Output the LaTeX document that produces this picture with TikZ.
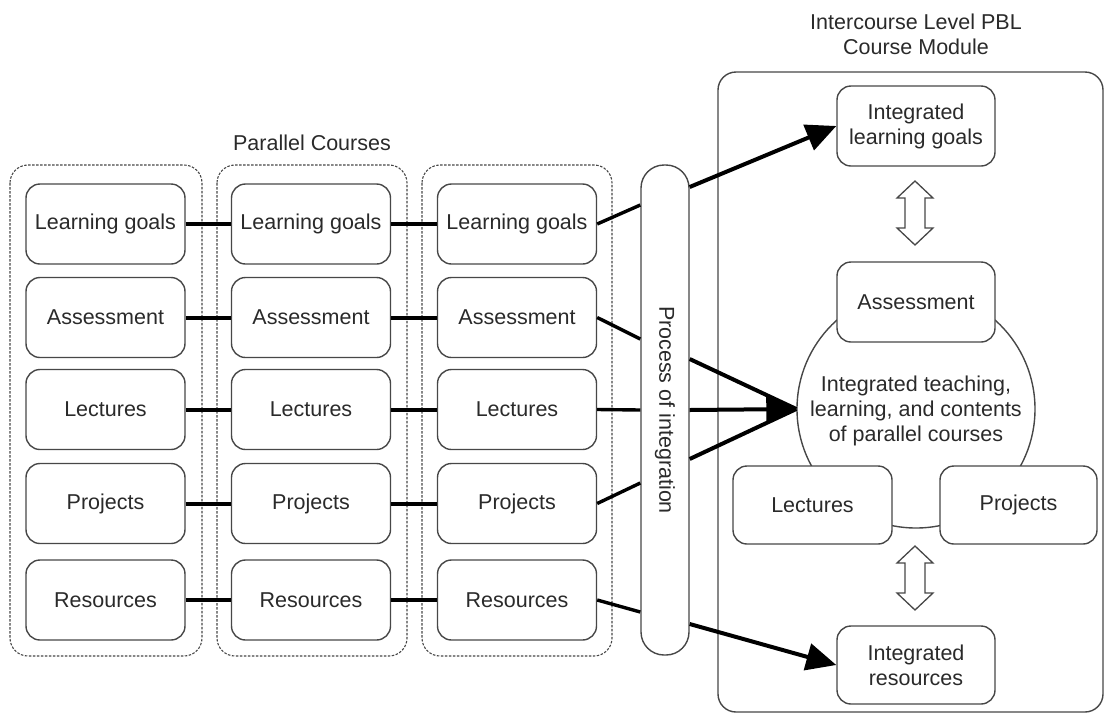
\documentclass[tikz,border=0pt]{standalone}
\usepackage{fontspec}
\setmainfont{Liberation Sans}
\usetikzlibrary{arrows.meta,calc}
\definecolor{edge}{HTML}{474747}
\definecolor{ink}{HTML}{2A2A2A}
\begin{document}
\begin{tikzpicture}[x=1pt,y=-1pt,
  every node/.style={font=\fontsize{21.5}{25}\selectfont, text=ink},
  rbox/.style={draw=edge, line width=1.4pt, rounded corners=14pt, fill=white,
     minimum width=159pt, minimum height=80pt, inner sep=0pt, align=center},
  course/.style={draw=edge, line width=1.1pt, dash pattern=on 2.5pt off 1.5pt, rounded corners=18pt},
  link/.style={line width=4pt, black},
  feed/.style={line width=3.4pt, black},
  bigarrow/.style={line width=4pt, black, -{Triangle[length=30pt,width=27pt]}},
  dblarrow/.style={draw=edge, line width=1.3pt, fill=white, line join=miter}
]
\useasboundingbox (0,0) rectangle (1106,713);

% titles
\node[align=center] (ttl) at (916,34) {Intercourse Level PBL\\Course Module};
\node (ptl) at (312,143) {Parallel Courses};

% dashed course containers
\draw[course] (10,165) rectangle (202,656);
\draw[course] (217,165) rectangle (407,656);
\draw[course] (422,165) rectangle (612,656);

% module frame
\draw[draw=edge, line width=1.4pt, rounded corners=18pt] (718,72) rectangle (1103,712);

% course boxes
\foreach \c/\x in {1/105.5, 2/311, 3/517}{
  \node[rbox] (c\c r1) at (\x,224) {Learning goals};
  \node[rbox] (c\c r2) at (\x,317.5) {Assessment};
  \node[rbox] (c\c r3) at (\x,409.5) {Lectures};
  \node[rbox] (c\c r4) at (\x,503.5) {Projects};
  \node[rbox] (c\c r5) at (\x,600) {Resources};
}
\foreach \r in {1,...,5}{
  \draw[link] (c1r\r.east) -- (c2r\r.west);
  \draw[link] (c2r\r.east) -- (c3r\r.west);
}

% process bar
\node[draw=edge, line width=1.4pt, rounded corners=23pt, fill=white,
      minimum width=48pt, minimum height=490pt, inner sep=0pt] (bar) at (665,410) {};
\node[rotate=-90] (bartxt) at (665,410) {Process of integration};

\draw[feed] (c3r1.east) -- ([yshift=205pt]bar.west);
\draw[feed] (c3r2.east) -- ([yshift=71pt]bar.west);
\draw[feed] (c3r3.east) -- (bar.west);
\draw[feed] (c3r4.east) -- ([yshift=-73pt]bar.west);
\draw[feed] (c3r5.east) -- ([yshift=-202pt]bar.west);

% integrated module
\node[draw=edge, line width=1.4pt, circle, minimum size=238pt, inner sep=0pt] (circ) at (916,409) {};
\node[align=center] (circtxt) at (916,411) {Integrated teaching,\\learning, and contents\\of parallel courses};

\node[rbox, minimum width=158pt] (ilg) at (916,126) {Integrated\\learning goals};
\node[rbox, minimum width=158pt] (ias) at (916,302) {Assessment};
\node[rbox, minimum width=159pt, minimum height=78pt] (ilec) at (812.5,505) {Lectures};
\node[rbox, minimum width=157pt, minimum height=78pt] (iproj) at (1018.5,505) {Projects};
\node[rbox, minimum width=158pt, minimum height=78pt] (ires) at (916,665) {Integrated\\resources};

% double arrows
\draw[dblarrow] (915,181) -- (933,198) -- (925,198) -- (925,228) -- (933,228) -- (915,245)
   -- (897,228) -- (905,228) -- (905,198) -- (897,198) -- cycle;
\draw[dblarrow] (915,546) -- (933,563) -- (925,563) -- (925,593) -- (933,593) -- (915,610)
   -- (897,593) -- (905,593) -- (905,563) -- (897,563) -- cycle;

% arrows out of the process bar
\draw[bigarrow] ([yshift=223pt]bar.east) -- (ilg.west);
\draw[bigarrow] ([yshift=-214pt]bar.east) -- (ires.west);
\draw[line width=4pt, black] ([yshift=51pt]bar.east) -- (circ.west);
\draw[line width=4pt, black] ([yshift=-49pt]bar.east) -- (circ.west);
\draw[bigarrow] (bar.east) -- (circ.west);
\end{tikzpicture}
\end{document}
